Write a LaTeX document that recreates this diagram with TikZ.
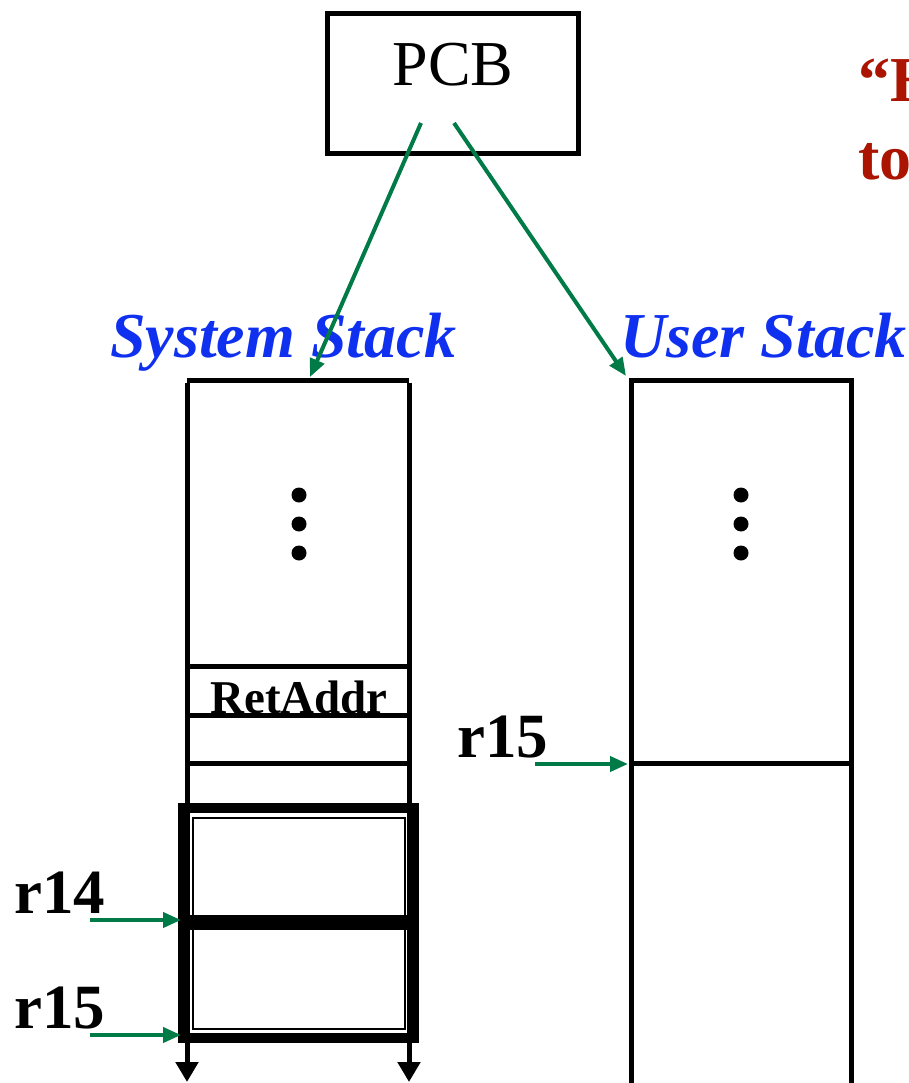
\documentclass[tikz,border=0pt]{standalone}
\usepackage{fontspec}
\setmainfont{Liberation Serif}
\usetikzlibrary{arrows.meta}
\definecolor{pgreen}{RGB}{0,122,70}
\definecolor{sblue}{RGB}{16,48,240}
\definecolor{dred}{RGB}{170,20,0}
\begin{document}
\begin{tikzpicture}[x=1pt,y=-1pt,
  frame/.style={line width=5pt},
  ptr/.style={draw=pgreen, line width=4pt, -{Triangle[length=18pt,width=15pt]}},
  down/.style={frame, -{Triangle[length=20pt,width=22pt]}},
  lbl/.style={font=\bfseries\fontsize{63}{63}\selectfont, inner sep=0, anchor=base west},
  title/.style={text=sblue, font=\bfseries\itshape\fontsize{64}{64}\selectfont, inner sep=0, anchor=base west},
  note/.style={text=dred, font=\bfseries\fontsize{64}{64}\selectfont, inner sep=0, anchor=base west},
  dotc/.style={circle, fill=black, minimum size=15pt, inner sep=0},
  pcbbox/.style={draw, line width=5pt, minimum width=251pt, minimum height=140pt, inner sep=0}
]
\useasboundingbox (0,0) rectangle (909,1083);

% PCB
\node[pcbbox] (pcb) at (453,83.5) {};
\node[font=\fontsize{64}{64}\selectfont, anchor=base, inner sep=0] (pcbt) at (453,86) {PCB};
\coordinate (p1) at (421,123);
\coordinate (p2) at (454,123);

% red note (cut off at the right edge)
\node[note] (n1) at (858,102) {“H};
\node[note] (n2) at (858,180) {to};

% titles
\node[title] (syst) at (110,357) {System Stack};
\node[title] (usert) at (620,357) {User Stack};

% system stack
\coordinate (stl) at (187,380);
\coordinate (str) at (409,380);
\coordinate (sbl) at (187,1082);
\coordinate (sbr) at (409,1082);
\coordinate (sysin) at (310,377);
\draw[frame] (stl) -- (str);
\draw[down] ([yshift=-2.5pt]stl) -- (sbl);
\draw[down] ([yshift=-2.5pt]str) -- (sbr);
\draw[frame] (187,666) -- (409,666);
\draw[frame] (187,715) -- (409,715);
\draw[frame] (187,763) -- (409,763);
\node[font=\bfseries\fontsize{47}{47}\selectfont, anchor=base, inner sep=0] (ret) at (299,713) {RetAddr};
\node[dotc] (sd1) at (299,495) {};
\node[dotc] (sd2) at (299,524) {};
\node[dotc] (sd3) at (299,553) {};

% thick frame
\draw[line width=10pt] (183,808) rectangle (414,1038);
\draw[line width=2.5pt] (193,818) rectangle (405,1029);
\draw[line width=15pt] (178,922.5) -- (419,922.5);
\coordinate (r14t) at (181,920);
\coordinate (r15t) at (181,1035);
\coordinate (r14s) at (90,920);
\coordinate (r15s) at (90,1035);

% user stack
\coordinate (utl) at (631,380);
\coordinate (utr) at (851,380);
\coordinate (uin) at (626,376);
\draw[frame] (631,1090) -- (utl) -- (utr) -- (851,1090);
\draw[frame] (631,763) -- (851,763);
\node[dotc] (ud1) at (741,495) {};
\node[dotc] (ud2) at (741,524) {};
\node[dotc] (ud3) at (741,553) {};
\coordinate (ur15s) at (535,764);
\coordinate (ur15t) at (628,764);

% labels
\node[lbl] (l14) at (14,913) {r14};
\node[lbl] (l15) at (14,1028) {r15};
\node[lbl] (lu15) at (457,757) {r15};

% pointers
\draw[ptr] (p1) -- (sysin);
\draw[ptr] (p2) -- (uin);
\draw[ptr] (r14s) -- (r14t);
\draw[ptr] (r15s) -- (r15t);
\draw[ptr] (ur15s) -- (ur15t);
\end{tikzpicture}
\end{document}
